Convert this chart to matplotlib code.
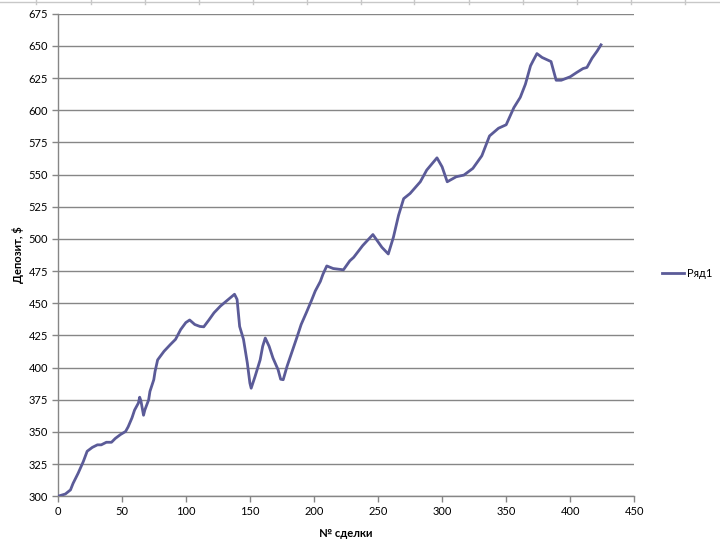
import matplotlib
matplotlib.use("Agg")
import matplotlib.pyplot as plt
from matplotlib.lines import Line2D

plt.rcParams['font.family'] = ['Lato', 'DejaVu Sans']

trade_no = [0, 6, 10, 12, 16, 20, 23, 27, 31, 34, 38, 42, 45, 49, 53, 55, 58, 60, 63, 64,
            65, 67, 68, 71, 72, 75, 76, 78, 83, 88, 92, 96, 100, 103, 107, 111, 114, 118,
            122, 127, 132, 138, 140, 142, 145, 148, 150, 151, 154, 158, 160, 162, 165, 168,
            172, 174, 176, 179, 183, 187, 190, 194, 198, 201, 205, 207, 210, 215, 223, 228,
            231, 238, 246, 253, 258, 262, 266, 270, 275, 283, 288, 296, 300, 304, 311, 317,
            324, 331, 337, 344, 350, 356, 361, 365, 369, 371, 374, 378, 385, 389, 393, 400,
            405, 410, 413, 417, 421, 424]
deposit = [300, 301.8, 305, 310, 318, 327, 335, 338, 340, 340, 342, 342, 345, 348, 350.4, 354,
           361, 367, 372.5, 377, 374, 363, 367, 375, 381.5, 390.6, 397, 406, 412.7, 418, 422,
           429.6, 435, 437, 433.5, 432, 431.7, 437, 442.6, 447.8, 452, 457, 453, 432, 422,
           403.6, 388, 384, 393, 406, 416.6, 423, 416.6, 407.5, 398.4, 391, 390.6, 401, 412.7,
           424.4, 433.5, 442.6, 452, 459.5, 467, 472.5, 479, 477, 476, 483, 485.7, 494.8,
           503.4, 493.5, 488.3, 501.3, 518.3, 531.3, 535.3, 544.4, 553.5, 563, 556, 544.4,
           548.3, 549.6, 554.8, 564.6, 580, 586, 588.7, 602, 610, 620.2, 634.5, 638.4, 644,
           641, 637.8, 623.3, 623.3, 626, 629.3, 632.4, 633.2, 640.4, 646, 650.8]
x_ticks = [0, 50, 100, 150, 200, 250, 300, 350, 400, 450]
y_ticks = [300, 325, 350, 375, 400, 425, 450, 475, 500, 525, 550, 575, 600, 625, 650, 675]
series_name = "Ряд1"

fig = plt.figure(figsize=(7.2, 5.5), dpi=100)
ax = fig.add_axes([0.0801, 0.0976, 0.8009, 0.8775])

line_color = '#5B5B98'
grid_color = '#868686'

ax.plot(trade_no, deposit, color=line_color, lw=2.0, label=series_name, zorder=3)

ax.set_xlim(0, 450)
ax.set_ylim(300, 675)
ax.set_xticks(x_ticks)
ax.set_yticks(y_ticks)
ax.yaxis.grid(True, color=grid_color, lw=1.0, zorder=0)
ax.set_axisbelow(True)

for s in ['top', 'right']:
    ax.spines[s].set_visible(False)
for s in ['left', 'bottom']:
    ax.spines[s].set_color(grid_color)
    ax.spines[s].set_linewidth(1.0)
ax.tick_params(axis='both', direction='out', length=4, width=1, color=grid_color,
               labelsize=8, labelcolor='black', pad=3)

ax.set_xlabel("№ сделки", fontsize=8, fontweight='bold', labelpad=8)
ax.set_ylabel("Депозит, $", fontsize=8, fontweight='bold', labelpad=3)

leg = fig.legend(loc='center left', bbox_to_anchor=(0.905, 0.503), frameon=False,
                 fontsize=8, handlelength=2.0, handletextpad=0.3)

# spreadsheet gridline remnants at top
top_color = '#C8C8C8'
fig.add_artist(Line2D([0, 1], [1 - 1.5/550, 1 - 1.5/550], transform=fig.transFigure,
                      color=top_color, lw=1))
for px in [36, 90.5, 144.5, 199, 253, 307, 361, 414.5, 469, 523, 577, 631, 684.5]:
    fig.add_artist(Line2D([px/720, px/720], [1, 1 - 4/550], transform=fig.transFigure,
                          color=top_color, lw=1))

fig.savefig("out.png", dpi=100)
